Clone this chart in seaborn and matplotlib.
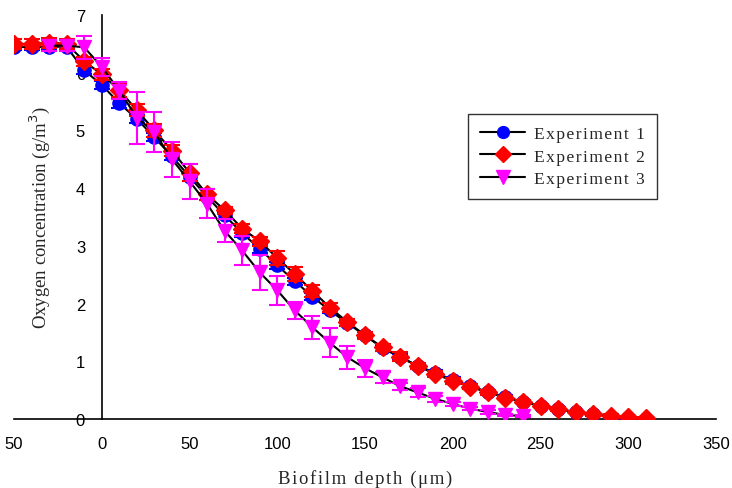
import numpy as np
import pandas as pd
import matplotlib
matplotlib.use("Agg")
import matplotlib.pyplot as plt
import seaborn as sns
from matplotlib.lines import Line2D

# ---- data ----
x1 = [-50, -40, -30, -20, -10, 0, 10, 20, 30, 40, 50, 60, 70, 80, 90, 100, 110, 120, 130, 140,
      150, 160, 170, 180, 190, 200, 210, 220, 230, 240, 250, 260, 270, 280, 290, 300]
y1 = [6.45, 6.44, 6.45, 6.45, 6.04, 5.79, 5.47, 5.2, 4.88, 4.55, 4.2, 3.85, 3.53, 3.22, 2.95, 2.66,
      2.39, 2.12, 1.88, 1.66, 1.45, 1.23, 1.07, 0.92, 0.80, 0.68, 0.57, 0.47, 0.38, 0.30, 0.23,
      0.17, 0.12, 0.08, 0.04, 0.01]
e1 = [0.05, 0.05, 0.05, 0.05, 0.07, 0.07, 0.08, 0.07, 0.07, 0.07, 0.07, 0.06, 0.06, 0.06, 0.07, 0.06,
      0.06, 0.06, 0.05, 0.05, 0.05, 0.05, 0.05, 0.05, 0.05, 0.04, 0.04, 0.03, 0.03, 0.03, 0.02,
      0.02, 0.02, 0.02, 0.02, 0.02]

x2 = [-50, -40, -30, -20, -10, 0, 10, 20, 30, 40, 50, 60, 70, 80, 90, 100, 110, 120, 130, 140,
      150, 160, 170, 180, 190, 200, 210, 220, 230, 240, 250, 260, 270, 280, 290, 300, 310]
y2 = [6.5, 6.5, 6.52, 6.5, 6.2, 5.97, 5.7, 5.35, 5.0, 4.65, 4.27, 3.89, 3.62, 3.3, 3.08, 2.79,
      2.51, 2.22, 1.93, 1.68, 1.45, 1.24, 1.08, 0.92, 0.78, 0.66, 0.56, 0.46, 0.37, 0.30, 0.23,
      0.17, 0.12, 0.09, 0.06, 0.04, 0.02]
e2 = [0.09, 0.09, 0.09, 0.09, 0.08, 0.1, 0.12, 0.1, 0.12, 0.1, 0.15, 0.1, 0.06, 0.08, 0.08, 0.12,
      0.12, 0.1, 0.08, 0.06, 0.06, 0.06, 0.08, 0.05, 0.05, 0.05, 0.04, 0.04, 0.03, 0.03, 0.03,
      0.03, 0.02, 0.02, 0.02, 0.02, 0.02]

x3 = [-30, -20, -10, 0, 10, 20, 30, 40, 50, 60, 70, 80, 90, 100, 110, 120, 130, 140,
      150, 160, 170, 180, 190, 200, 210, 220, 230, 240]
y3 = [6.47, 6.47, 6.44, 6.1, 5.69, 5.22, 4.97, 4.5, 4.12, 3.73, 3.26, 2.92, 2.54, 2.23, 1.88,
      1.59, 1.32, 1.07, 0.88, 0.72, 0.57, 0.46, 0.35, 0.26, 0.18, 0.12, 0.07, 0.05]
e3 = [0.1, 0.1, 0.2, 0.15, 0.15, 0.45, 0.35, 0.3, 0.3, 0.25, 0.2, 0.25, 0.3, 0.25, 0.15, 0.2,
      0.25, 0.2, 0.15, 0.1, 0.06, 0.08, 0.05, 0.04, 0.03, 0.03, 0.02, 0.02]

series_names = ["Experiment 1", "Experiment 2", "Experiment 3"]
series_colors = ["#0000FF", "#FF0000", "#FF00FF"]
series_markers = ["o", "D", "v"]
xtick_vals = [-50, 0, 50, 100, 150, 200, 250, 300, 350]
xtick_labels = ["50", "0", "50", "100", "150", "200", "250", "300", "350"]
ytick_vals = [0, 1, 2, 3, 4, 5, 6, 7]
x_title = "Biofilm depth (μm)"
y_title = "Oxygen concentration (g/m$^3$)"


def spaced(s):
    # widen letter spacing slightly with hair spaces
    return "\u200a".join(s)


sns.set_theme(style="white")
plt.rcParams["font.family"] = ["Liberation Serif", "DejaVu Serif"]

fig = plt.figure(figsize=(7.32, 4.89), dpi=100)
W, H = 732, 489
ax = fig.add_axes([14 / W, 69 / H, (716 - 14) / W, (420 - 16) / H])

data = [(x1, y1, e1), (x2, y2, e2), (x3, y3, e3)]
msizes = [9.5, 9, 10.5]
for i, (xs, ys, es) in enumerate(data):
    df = pd.DataFrame({"x": xs, "y": ys})
    sns.lineplot(data=df, x="x", y="y", color="black", linewidth=1.5, ax=ax,
                 zorder=2 + 3 * i, legend=False)
    ax.errorbar(xs, ys, yerr=es, fmt="none", ecolor=series_colors[i], elinewidth=1.5,
                capsize=6, capthick=1.5, zorder=3 + 3 * i)
    ax.plot(xs, ys, linestyle="none", marker=series_markers[i], markersize=msizes[i],
            color=series_colors[i], markeredgecolor=series_colors[i], zorder=4 + 3 * i)

ax.set_xlim(-50, 350)
ax.set_ylim(0, 7)
ax.spines["left"].set_position(("data", 0))
ax.spines["right"].set_visible(False)
ax.spines["top"].set_visible(False)
for s in ["left", "bottom"]:
    ax.spines[s].set_color("black")
    ax.spines[s].set_linewidth(1.2)

ax.set_xticks(xtick_vals)
ax.set_xticklabels(xtick_labels)
ax.set_yticks(ytick_vals)
ax.tick_params(axis="both", which="major", direction="out", length=6, width=1.2,
               color="black", labelcolor="black", labelsize=12)
ax.tick_params(axis="x", pad=6)
ax.tick_params(axis="y", pad=6)
for lab in ax.get_xticklabels() + ax.get_yticklabels():
    lab.set_family(["Liberation Sans Narrow", "Liberation Sans", "DejaVu Sans"])

ax.set_xlabel(spaced(x_title), fontsize=13.5)
ax.set_ylabel(y_title, fontsize=13.5)
ax.yaxis.set_label_coords((52 - 14) / (716 - 14), 0.5)
ax.xaxis.set_label_coords(0.5, -(470 - 420) / (420 - 16))

handles = [Line2D([0], [0], color="black", linewidth=1.5, marker=m, markersize=ms - 1,
                  markerfacecolor=c, markeredgecolor=c)
           for m, ms, c in zip(series_markers, msizes, series_colors)]
leg = fig.legend(handles, [spaced(n) for n in series_names], loc="upper left",
                 bbox_to_anchor=(468 / W, 1 - 115 / H), frameon=True, fancybox=False,
                 edgecolor="black", fontsize=12.5, handlelength=2.6, borderpad=0.7,
                 labelspacing=0.35, handletextpad=0.5, borderaxespad=0)
leg.get_frame().set_linewidth(1.0)

fig.savefig("out.png", dpi=100)
